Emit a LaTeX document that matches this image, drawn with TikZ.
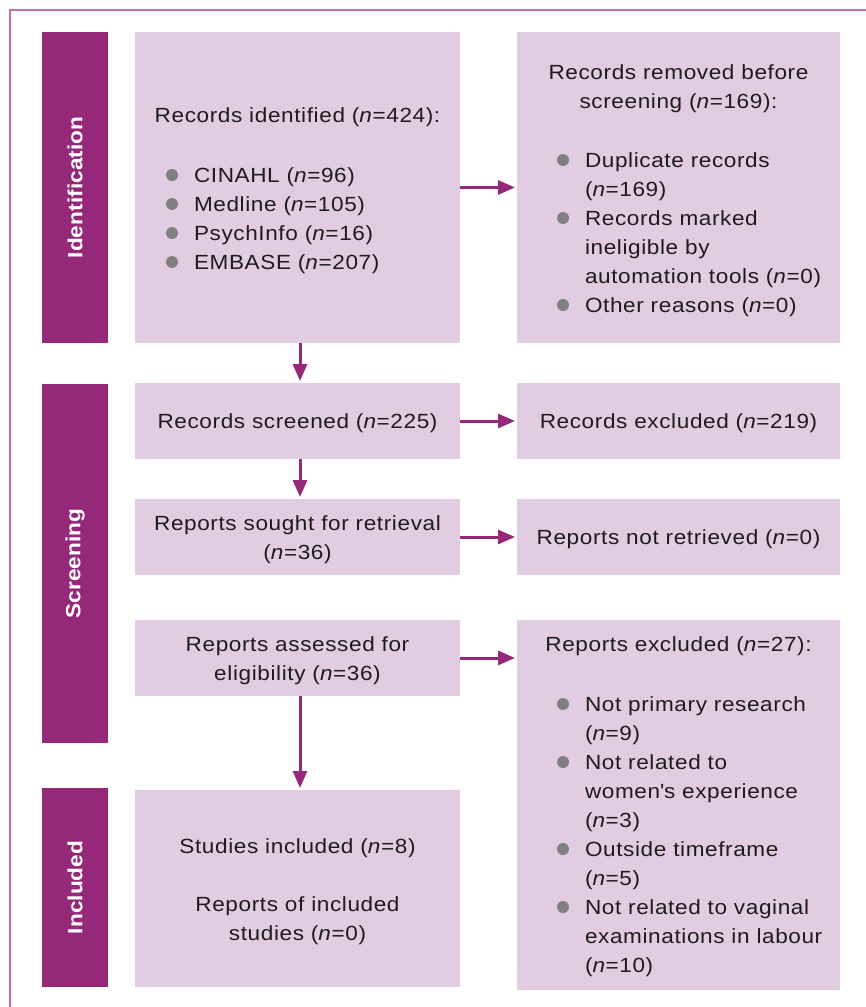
\documentclass[tikz,border=0pt]{standalone}
\usepackage{fontspec}
\setmainfont{Liberation Sans}[FakeStretch=1.1,LetterSpace=3]
\usetikzlibrary{arrows.meta}
\definecolor{sidepurple}{RGB}{150,40,122}
\definecolor{arrowcol}{RGB}{150,40,122}
\definecolor{boxfill}{RGB}{225,204,225}
\definecolor{bulgray}{RGB}{128,128,130}
\definecolor{bordercol}{RGB}{190,112,172}
\definecolor{textcol}{RGB}{30,27,28}
\newcommand\mysize{\fontsize{20.5}{29}\selectfont}
\newcommand\bul{\tikz[baseline=0pt]\fill[bulgray] (6pt,7pt) circle[radius=6pt];}
\newcommand\nn{\textit{n}}
\begin{document}
\begin{tikzpicture}[x=1pt,y=-1pt,
  box/.style={fill=boxfill,anchor=north west,inner sep=0pt,outer sep=0pt},
  sidebar/.style={fill=sidepurple,anchor=north west,inner sep=0pt,outer sep=0pt,minimum width=66pt},
  sidelabel/.style={rotate=90,text=white,inner sep=0pt,font=\mysize\bfseries\addfontfeatures{LetterSpace=0.5}},
  txt/.style={inner sep=0pt,outer sep=0pt,text=textcol,font=\mysize},
  arr/.style={draw=arrowcol,line width=3pt,-{Triangle[width=14pt,length=17pt]},shorten >=2pt}]
\useasboundingbox (0,0) rectangle (866,1007);
% frame
\draw[bordercol,line width=1.5pt] (866,10) -- (10,10) -- (10,1007);
% side bars
\node[sidebar,minimum height=311pt] (sId) at (42,32) {};
\node[sidebar,minimum height=359pt] (sSc) at (42,384) {};
\node[sidebar,minimum height=199pt] (sIn) at (42,788) {};
\node[sidelabel] (lId) at (sId.center) {Identification};
\node[sidelabel] (lSc) at (sSc.center) {Screening};
\node[sidelabel] (lIn) at (sIn.center) {Included};
% boxes
\node[box,minimum width=325pt,minimum height=311pt] (A) at (135,32) {};
\node[box,minimum width=323pt,minimum height=311pt] (B) at (517,32) {};
\node[box,minimum width=325pt,minimum height=76pt] (C) at (135,383) {};
\node[box,minimum width=323pt,minimum height=76pt] (D) at (517,383) {};
\node[box,minimum width=325pt,minimum height=76pt] (E) at (135,499) {};
\node[box,minimum width=323pt,minimum height=76pt] (F) at (517,499) {};
\node[box,minimum width=325pt,minimum height=76pt] (G) at (135,620) {};
\node[box,minimum width=323pt,minimum height=370pt] (H) at (517,620) {};
\node[box,minimum width=325pt,minimum height=197pt] (I) at (135,790) {};
% texts
\node[txt,anchor=base] (tA) at (297.5,122) {Records identified (\nn=424):};
\node[txt,anchor=base west] (lA) at (166,182) {\begin{tabular}[t]{@{}c@{\hspace{16pt}}l@{}}
\bul & CINAHL (\nn=96)\\
\bul & Medline (\nn=105)\\
\bul & PsychInfo (\nn=16)\\
\bul & EMBASE (\nn=207)
\end{tabular}};
\node[txt,anchor=base] (tB) at (678.5,79) {\begin{tabular}[t]{@{}c@{}}Records removed before\\ screening (\nn=169):\end{tabular}};
\node[txt,anchor=base west] (lB) at (557,167) {\begin{tabular}[t]{@{}c@{\hspace{16pt}}l@{}}
\bul & Duplicate records\\
 & (\nn=169)\\
\bul & Records marked\\
 & ineligible by\\
 & automation tools (\nn=0)\\
\bul & Other reasons (\nn=0)
\end{tabular}};
\node[txt,anchor=base] (tC) at (297.5,428) {Records screened (\nn=225)};
\node[txt,anchor=base] (tD) at (678.5,428) {Records excluded (\nn=219)};
\node[txt,anchor=base] (tE) at (297.5,530) {\begin{tabular}[t]{@{}c@{}}Reports sought for retrieval\\ (\nn=36)\end{tabular}};
\node[txt,anchor=base] (tF) at (678.5,544) {Reports not retrieved (\nn=0)};
\node[txt,anchor=base] (tG) at (297.5,651) {\begin{tabular}[t]{@{}c@{}}Reports assessed for\\ eligibility (\nn=36)\end{tabular}};
\node[txt,anchor=base] (tH) at (678.5,651) {Reports excluded (\nn=27):};
\node[txt,anchor=base west] (lH) at (557,711) {\begin{tabular}[t]{@{}c@{\hspace{16pt}}l@{}}
\bul & Not primary research\\
 & (\nn=9)\\
\bul & Not related to\\
 & women\textquotesingle s experience\\
 & (\nn=3)\\
\bul & Outside timeframe\\
 & (\nn=5)\\
\bul & Not related to vaginal\\
 & examinations in labour\\
 & (\nn=10)
\end{tabular}};
\node[txt,anchor=base] (tI) at (297.5,853) {\begin{tabular}[t]{@{}c@{}}Studies included (\nn=8)\\ \\ Reports of included\\ studies (\nn=0)\end{tabular}};
% arrows
\draw[arr] (A.east) -- (B.west);
\draw[arr] (C.east) -- (D.west);
\draw[arr] (E.east) -- (F.west);
\draw[arr] (G.east) -- (G.east -| H.west);
\draw[arr] ([xshift=2.5pt]A.south) -- ([xshift=2.5pt]C.north);
\draw[arr] ([xshift=2.5pt]C.south) -- ([xshift=2.5pt]E.north);
\draw[arr] ([xshift=2.5pt]G.south) -- ([xshift=2.5pt]I.north);
\end{tikzpicture}
\end{document}
